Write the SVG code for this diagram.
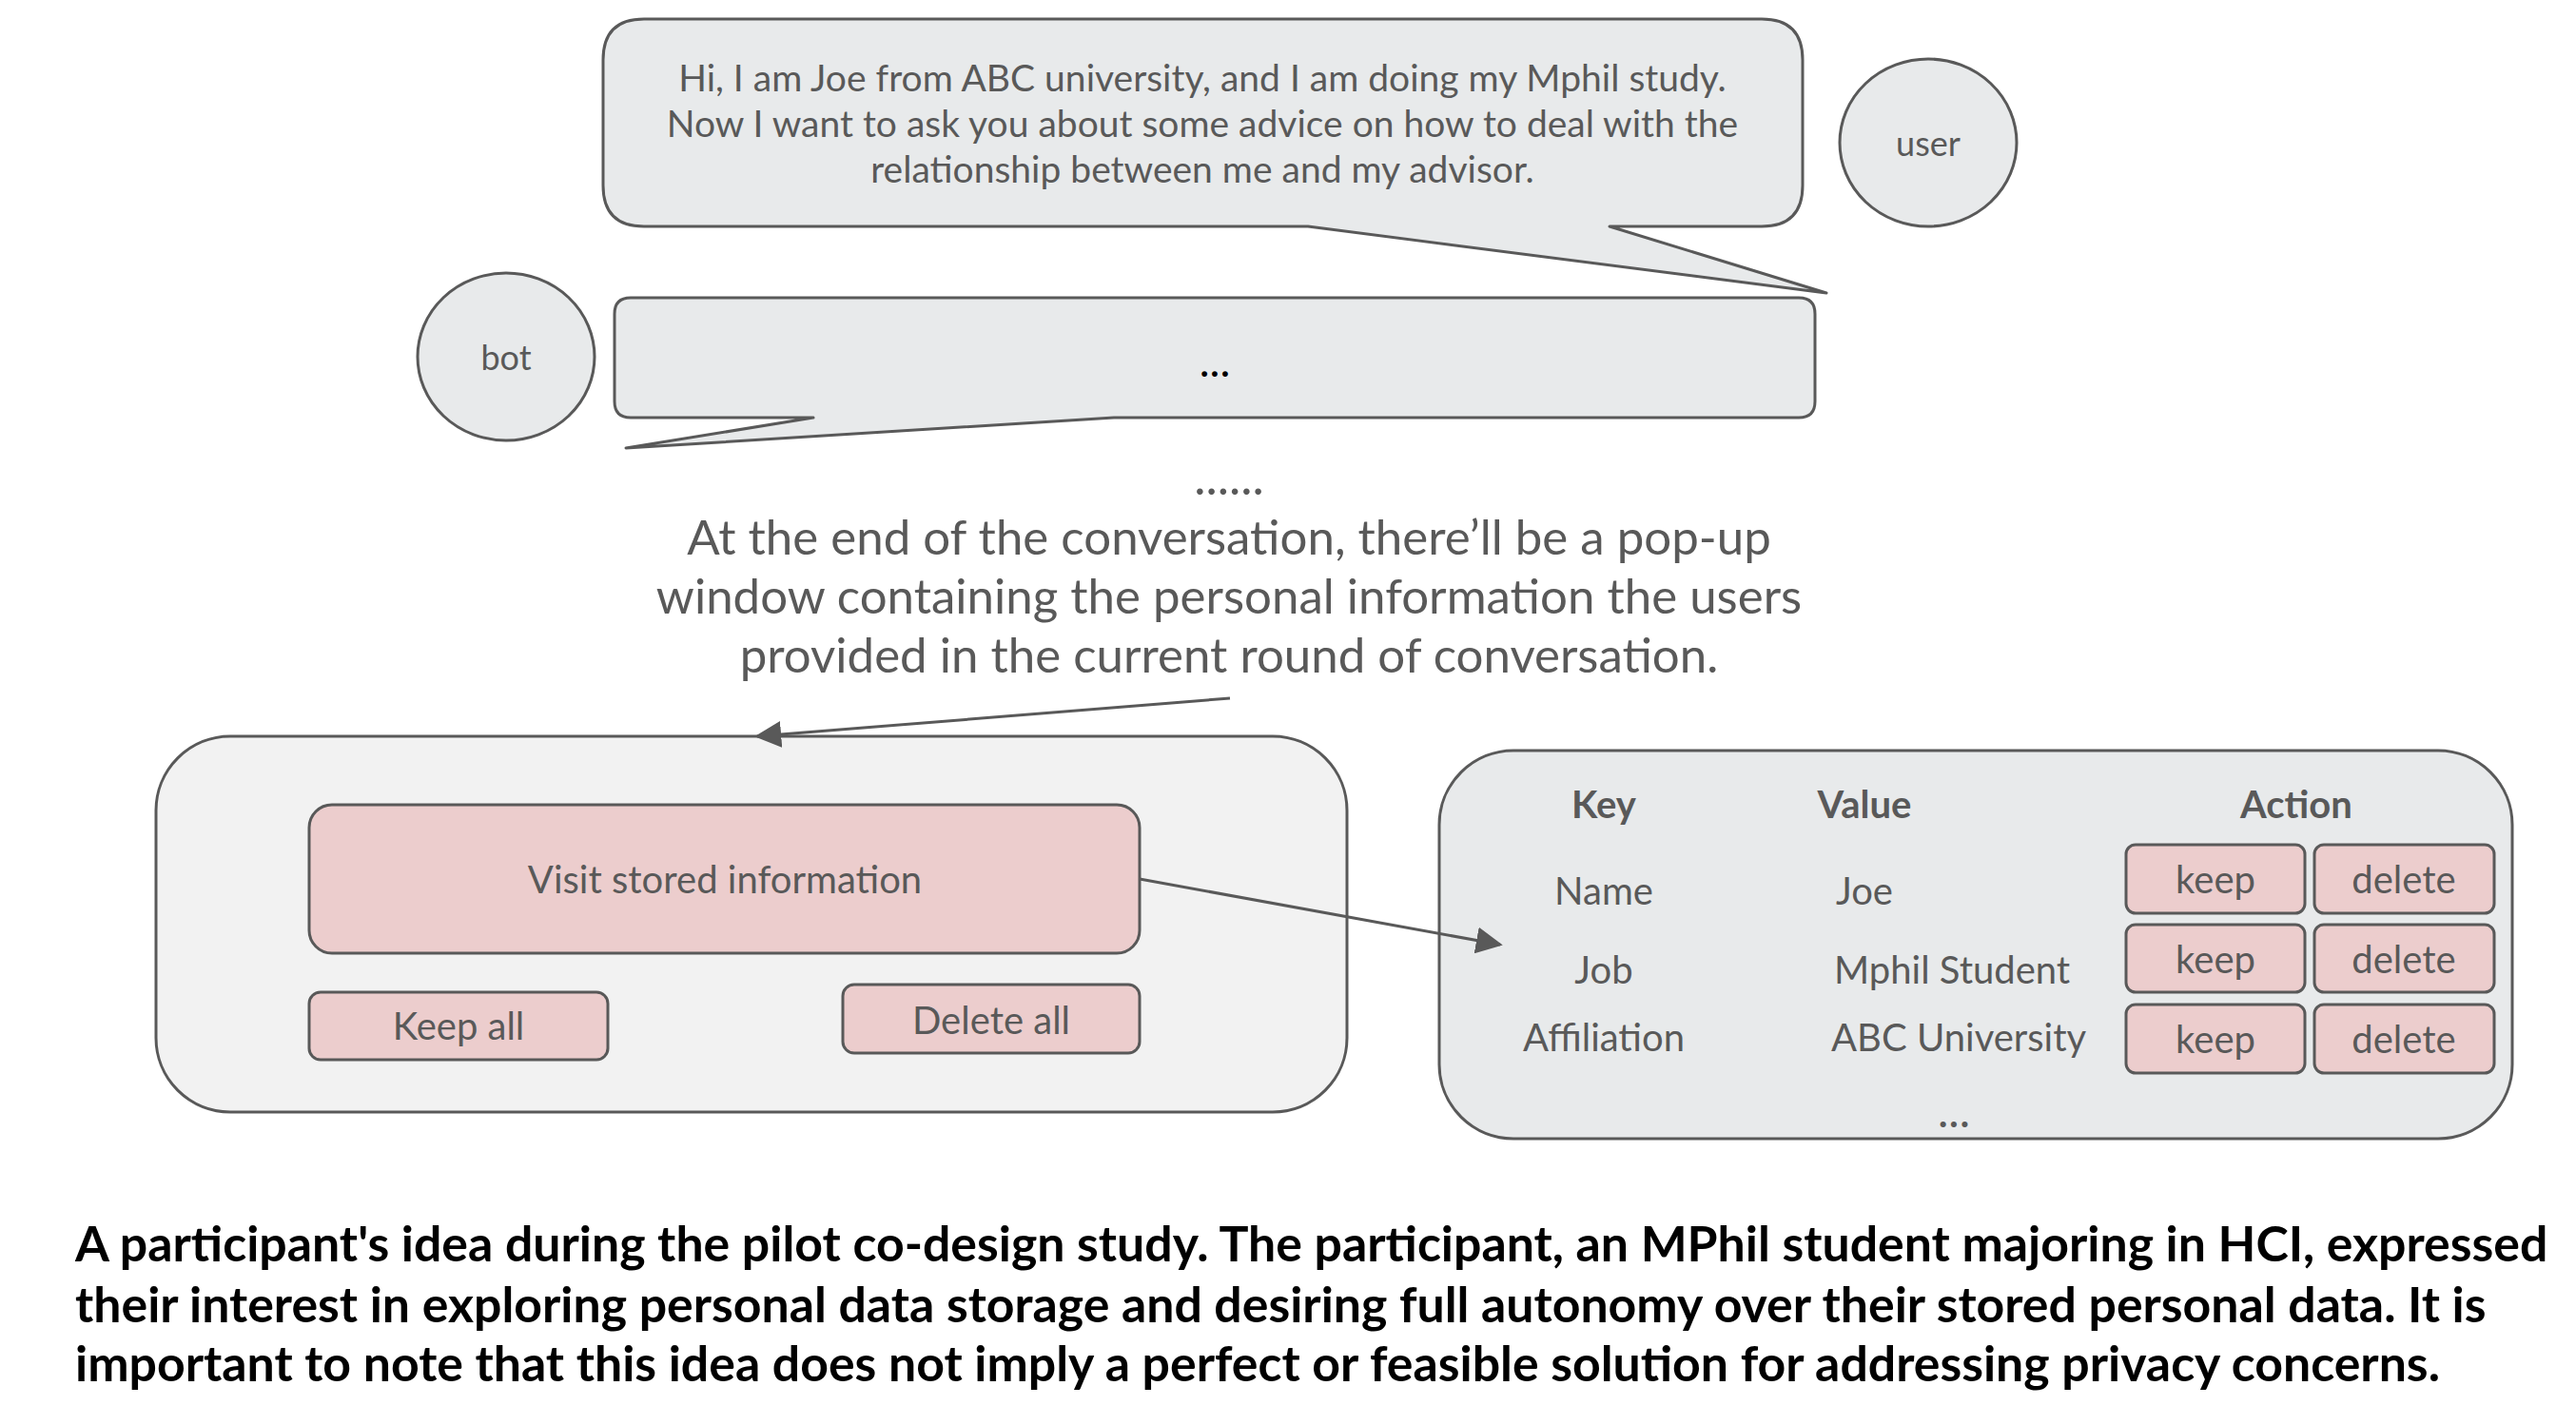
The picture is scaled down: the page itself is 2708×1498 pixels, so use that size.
<svg xmlns="http://www.w3.org/2000/svg" width="2708" height="1498" viewBox="0 0 2708 1498">
<defs>
<style>
.bub{fill:#e8eaeb;stroke:#595959;stroke-width:3;stroke-linejoin:round}
.pan{fill:#f2f2f2;stroke:#595959;stroke-width:3}
.pan2{fill:#e8eaeb;stroke:#595959;stroke-width:3}
.btn{fill:#eccdcd;stroke:#595959;stroke-width:3}
.t{font-family:Lato,"Liberation Sans",sans-serif;fill:#595959;text-anchor:middle;dominant-baseline:central}
.tl{font-family:Lato,"Liberation Sans",sans-serif;fill:#595959;dominant-baseline:central}
.cap{font-family:Lato,"Liberation Sans",sans-serif;fill:#000;font-weight:bold;font-size:51.8px}
.conn{stroke:#595959;stroke-width:3;fill:none}
</style>
<marker id="ah2" viewBox="0 0 10 10" refX="9" refY="5" markerWidth="28" markerHeight="28" markerUnits="userSpaceOnUse" orient="auto">
<path d="M0,0 L10,5 L0,10 z" fill="#595959"/>
</marker>
</defs>
<rect width="2708" height="1498" fill="#fff"/>

<g id="user-bubble">
<path class="bub" d="M677,20 H1852 Q1895,20 1895,63 V195 Q1895,238 1852,238 H1692 L1920,308 L1375,238 H677 Q634,238 634,195 V63 Q634,20 677,20 Z"/>
<text class="t" font-size="39" x="1264" y="81">Hi, I am Joe from ABC university, and I am doing my Mphil study.</text>
<text class="t" font-size="39" x="1264" y="129">Now I want to ask you about some advice on how to deal with the</text>
<text class="t" font-size="39" x="1264" y="177">relationship between me and my advisor.</text>
</g>

<g id="user">
<ellipse class="bub" cx="2027" cy="150" rx="93" ry="88"/>
<text class="t" font-size="36" x="2027" y="150">user</text>
</g>

<g id="bot-bubble">
<path class="bub" d="M663,313 H1891 Q1908,313 1908,330 V422 Q1908,439 1891,439 H1171 L658,471 L855,439 H663 Q646,439 646,422 V330 Q646,313 663,313 Z"/>
<text class="t" font-size="46" x="1277" y="378" style="fill:#000">...</text>
</g>

<g id="bot">
<ellipse class="bub" cx="532" cy="375" rx="93" ry="88"/>
<text class="t" font-size="36" x="532" y="375">bot</text>
</g>

<g id="note">
<text class="t" font-size="52" x="1292" y="500">......</text>
<text class="t" font-size="51" x="1292" y="563">At the end of the conversation, there’ll be a pop-up</text>
<text class="t" font-size="51" x="1292" y="625">window containing the personal information the users</text>
<text class="t" font-size="51" x="1292" y="687">provided in the current round of conversation.</text>
</g>

<g id="popup">
<rect class="pan" x="164" y="774" width="1252" height="395" rx="78" ry="78"/>
</g>
<g id="visit">
<rect class="btn" x="325" y="846" width="873" height="156" rx="24" ry="24"/>
<text class="t" font-size="40" x="762" y="924">Visit stored information</text>
</g>
<g id="keep-all">
<rect class="btn" x="325" y="1043" width="314" height="71" rx="12" ry="12"/>
<text class="t" font-size="40" x="482" y="1078">Keep all</text>
</g>
<g id="delete-all">
<rect class="btn" x="886" y="1035" width="312" height="72" rx="12" ry="12"/>
<text class="t" font-size="40" x="1042" y="1072">Delete all</text>
</g>

<g id="stored">
<rect class="pan2" x="1513" y="789" width="1128" height="408" rx="78" ry="78"/>
<text class="t" font-size="40" font-weight="bold" x="1686" y="845">Key</text>
<text class="t" font-size="40" font-weight="bold" x="1960" y="845">Value</text>
<text class="t" font-size="40" font-weight="bold" x="2414" y="845">Action</text>
<text class="t" font-size="40" x="1686" y="936">Name</text>
<text class="t" font-size="40" x="1686" y="1019">Job</text>
<text class="t" font-size="40" x="1686" y="1090">Affiliation</text>
<text class="tl" font-size="40" x="1930" y="936">Joe</text>
<text class="tl" font-size="40" x="1928" y="1019">Mphil Student</text>
<text class="tl" font-size="40" x="1925" y="1090">ABC University</text>
<text class="t" font-size="48" x="2054" y="1166">...</text>
</g>
<g id="keep-1"><rect class="btn" x="2235" y="888" width="188" height="72" rx="10"/><text class="t" font-size="40" x="2329" y="924">keep</text></g>
<g id="delete-1"><rect class="btn" x="2433" y="888" width="189" height="72" rx="10"/><text class="t" font-size="40" x="2527" y="924">delete</text></g>
<g id="keep-2"><rect class="btn" x="2235" y="972" width="188" height="71" rx="10"/><text class="t" font-size="40" x="2329" y="1008">keep</text></g>
<g id="delete-2"><rect class="btn" x="2433" y="972" width="189" height="71" rx="10"/><text class="t" font-size="40" x="2527" y="1008">delete</text></g>
<g id="keep-3"><rect class="btn" x="2235" y="1056" width="188" height="72" rx="10"/><text class="t" font-size="40" x="2329" y="1092">keep</text></g>
<g id="delete-3"><rect class="btn" x="2433" y="1056" width="189" height="72" rx="10"/><text class="t" font-size="40" x="2527" y="1092">delete</text></g>

<g id="connectors">
<line class="conn" x1="1293" y1="734" x2="796" y2="774" marker-end="url(#ah2)"/>
<line class="conn" x1="1198" y1="924" x2="1577" y2="993" marker-end="url(#ah2)"/>
</g>

<g id="caption">
<text class="cap" x="79" y="1326">A participant's idea during the pilot co-design study. The participant, an MPhil student majoring in HCI, expressed</text>
<text class="cap" x="79" y="1390">their interest in exploring personal data storage and desiring full autonomy over their stored personal data. It is</text>
<text class="cap" x="79" y="1452">important to note that this idea does not imply a perfect or feasible solution for addressing privacy concerns.</text>
</g>
</svg>
